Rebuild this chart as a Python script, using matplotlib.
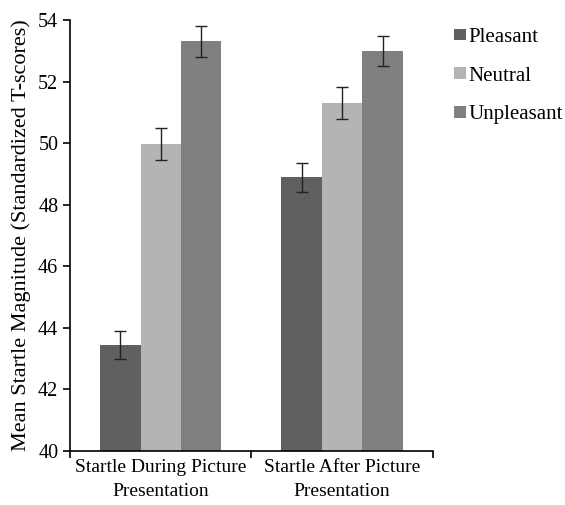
import numpy as np
import matplotlib
matplotlib.use('Agg')
import matplotlib.pyplot as plt

# Data
groups = ['Startle During Picture\nPresentation', 'Startle After Picture\nPresentation']
conditions = ['Pleasant', 'Neutral', 'Unpleasant']
pleasant = [43.45, 48.9]
neutral = [49.98, 51.3]
unpleasant = [53.32, 53.0]
pleasant_err = [0.45, 0.47]
neutral_err = [0.52, 0.52]
unpleasant_err = [0.5, 0.48]

colors = ['#606060', '#b4b4b4', '#808080']

plt.rcParams['font.family'] = ['Liberation Serif', 'DejaVu Serif']

fig = plt.figure(figsize=(5.65, 5.05), dpi=100)
ax = fig.add_axes([0.124, 0.107, 0.642, 0.853])

x = np.arange(len(groups))
width = 0.223
series = [(pleasant, pleasant_err), (neutral, neutral_err), (unpleasant, unpleasant_err)]
for i, (vals, errs) in enumerate(series):
    ax.bar(x + (i - 1) * width, np.array(vals) - 40, width, bottom=40,
           color=colors[i], label=conditions[i])
    ax.errorbar(x + (i - 1) * width, vals, yerr=errs, fmt='none',
                ecolor='#222222', elinewidth=1, capsize=4, capthick=1)

ax.set_xlim(-0.5, 1.5)
ax.set_ylim(40, 54)
ax.set_yticks(range(40, 55, 2))
ax.set_xticks(x)
ax.set_xticklabels(groups, linespacing=1.5)
ax.tick_params(axis='x', length=0, labelsize=14, pad=6)
ax.set_xticks([-0.5, 0.5, 1.5], minor=True)
ax.tick_params(axis='x', which='minor', length=5, width=1.2, direction='out')
ax.tick_params(axis='y', length=5, width=1.2, labelsize=14.5)

for side in ['top', 'right']:
    ax.spines[side].set_visible(False)
for side in ['left', 'bottom']:
    ax.spines[side].set_linewidth(1.2)

ax.set_ylabel('Mean Startle Magnitude (Standardized T-scores)', fontsize=16,
              labelpad=5)

fig.legend(loc='upper left', bbox_to_anchor=(0.77, 0.982), frameon=False,
           fontsize=15, handlelength=0.6, handleheight=0.5, handletextpad=0.1,
           labelspacing=0.95)

fig.savefig('out.png', dpi=100)
